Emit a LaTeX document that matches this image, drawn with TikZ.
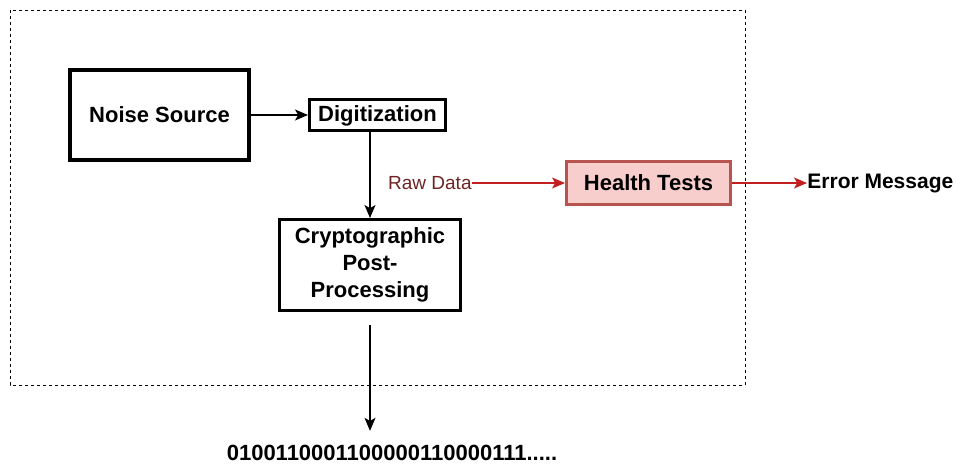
\documentclass[tikz,border=0pt]{standalone}
\usepackage{fontspec}
\setmainfont{Liberation Sans}
\usetikzlibrary{arrows.meta}
\definecolor{hfill}{HTML}{F8CECC}
\definecolor{hline}{HTML}{B85450}
\definecolor{errred}{HTML}{C21F1F}
\definecolor{rawtxt}{HTML}{6E2323}

\begin{document}
\begin{tikzpicture} [x=0.5pt, y=-0.5pt,
  block/.style={draw, line width=1.5pt, inner sep=0pt, align=center,
    font=\fontsize{11}{13.5}\selectfont\bfseries},
  flow/.style={-{Stealth[length=6.5pt, width=5.5pt, inset=1.6pt]}, line width=0.6pt},
  alarm/.style={flow, errred}]
\useasboundingbox (0,0) rectangle (956,467);
% dashed frame around the generator
\draw[line width=0.5pt, dash pattern=on 1.5pt off 1.5pt] (10,10) rectangle (745,385);
\node[block, line width=2pt, minimum width=89.5pt, minimum height=45pt] (noise) at (159.5,115) {Noise Source};
\node[block, minimum width=68pt, minimum height=15.5pt, text depth=1pt] (digit) at (377.5,115) {Digitization};
\node[block, minimum width=90.5pt, minimum height=45.5pt] (post) at (370,265) {Cryptographic\\Post-\\Processing};
\node[block, fill=hfill, draw=hline, minimum width=82pt, minimum height=21.5pt] (health) at (648.5,183) {Health Tests};
\node[anchor=east, inner sep=0pt, text=rawtxt, font=\fontsize{9.5}{11}\selectfont] (raw) at (472,183) {Raw Data};
\node[anchor=west, inner sep=0pt, font=\fontsize{10.5}{12}\selectfont\bfseries] (err) at (807,183) {Error Message};
\node[inner sep=0pt, font=\fontsize{11}{13}\selectfont\bfseries] (bits) at (392,453) {0100110001100000110000111.....};

\draw[flow] (noise) -- (digit);
\draw[flow] (post.north |- digit.south) -- (post.north);
\draw[flow, shorten <=6.5pt, shorten >=7pt] (post.south) -- (post.south |- bits.north);
\draw[alarm] (raw) -- (health);
\draw[alarm] (health) -- (err);
\end{tikzpicture}
\end{document}
